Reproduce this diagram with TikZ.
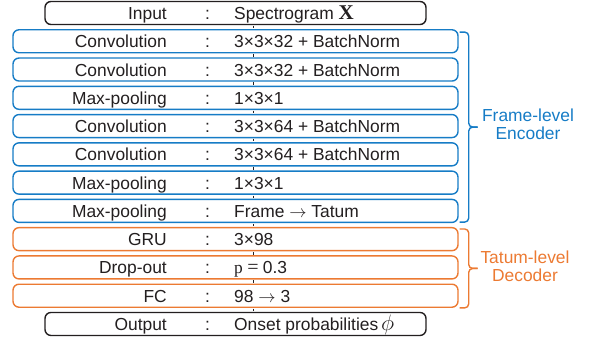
\documentclass[tikz,border=0pt]{standalone}
\usepackage{fontspec}
\setmainfont{Liberation Sans}
\newfontfamily\seriffont{Liberation Serif}
\usepackage{tikz}
\usetikzlibrary{calc}
\definecolor{encblue}{RGB}{22,124,198}
\definecolor{decorange}{RGB}{236,122,50}
\definecolor{inkblack}{RGB}{35,31,32}

\begin{document}
\begin{tikzpicture}[x=1pt,y=-1pt,
	every node/.style={font=\fontsize{17.4}{18}\selectfont, text=inkblack},
	layer/.style={draw, line width=1.4pt, rounded corners=6pt, fill=white,
		minimum height=23pt, inner sep=0pt},
	io/.style={layer, draw=inkblack, minimum width=381pt},
	enc/.style={layer, draw=encblue, minimum width=445pt},
	dec/.style={layer, draw=decorange, minimum width=445pt},
	kind/.style={anchor=base east, inner sep=0pt},
	sep/.style={anchor=base, inner sep=0pt},
	spec/.style={anchor=base west, inner sep=0pt},
	spine/.style={draw=inkblack, line width=0.7pt, shorten <=0.7pt, shorten >=0.7pt},
	brace/.style={line width=1.4pt, rounded corners=4pt}]
	\useasboundingbox (0,0) rectangle (596,347);
	\coordinate (axis) at (253,0);
	% layers, top to bottom
	\foreach \i/\st/\kind/\spec in {
		0/io/Input/{Spectrogram {\seriffont\bfseries\fontsize{21}{21}\selectfont X}},
		1/enc/Convolution/{3×3×32 + BatchNorm},
		2/enc/Convolution/{3×3×32 + BatchNorm},
		3/enc/Max-pooling/{1×3×1},
		4/enc/Convolution/{3×3×64 + BatchNorm},
		5/enc/Convolution/{3×3×64 + BatchNorm},
		6/enc/Max-pooling/{1×3×1},
		7/enc/Max-pooling/{Frame $\rightarrow$ Tatum},
		8/dec/GRU/{3×98},
		9/dec/Drop-out/{{\seriffont p {\fontsize{20}{20}\selectfont=} }0.3},
		10/dec/FC/{98 $\rightarrow$ 3},
		11/io/Output/{Onset probabilities\,\scalebox{1.3}{$\phi$}}}{
		\node[\st] (r\i) at (235.5,{13+28.27*\i}) {};
		\node[kind] (k\i) at (167,{19.5+28.27*\i}) {\kind};
		\node[sep] (c\i) at (207.5,{19.5+28.27*\i}) {:};
		\node[spec] (s\i) at (234,{19.5+28.27*\i}) {\spec};
	}
	% thin line joining the layers
	\foreach \i [evaluate=\i as \j using int(\i+1)] in {0,...,10}
		\draw[spine] (r\i.south -| axis) -- (r\j.north -| axis);
	% encoder brace
	\coordinate (et) at ([shift={(1pt,-3pt)}]r1.north east);
	\coordinate (eb) at ([shift={(1pt,1pt)}]r7.south east);
	\coordinate (em) at ($(et)!0.5!(eb)+(18,0)$);
	\draw[brace, encblue] (et) -- ++(9,0) |- (em);
	\draw[brace, encblue] (eb) -- ++(9,0) |- (em);
	\node[text=encblue, align=center] (encname) at (528,124) {Frame-level\\Encoder};
	% decoder brace
	\coordinate (dt) at ([shift={(1pt,-2pt)}]r8.north east);
	\coordinate (db) at ([shift={(1pt,0pt)}]r10.south east);
	\coordinate (dm) at ($(dt)!0.5!(db)+(18,0)$);
	\draw[brace, decorange] (dt) -- ++(9,0) |- (dm);
	\draw[brace, decorange] (db) -- ++(9,0) |- (dm);
	\node[text=decorange, align=center] (decname) at (525,266) {Tatum-level\\Decoder};
\end{tikzpicture}
\end{document}
